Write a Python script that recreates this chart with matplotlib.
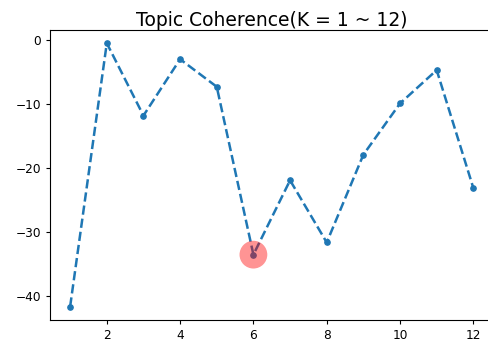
import matplotlib
matplotlib.use("Agg")
import matplotlib.pyplot as plt

# ==================================
# DATA
# ==================================

k_values = [1, 2, 3, 4, 5, 6, 7, 8, 9, 10, 11, 12]
coherence = [-41.6, -0.5, -11.8, -3.0, -7.3, -33.5, -21.9, -31.6, -17.9, -9.9, -4.7, -23.1]
best_k = 6
best_score = -33.5
x_ticks = [2, 4, 6, 8, 10, 12]

# ==================================
# PLOT
# ==================================

fig = plt.figure(figsize=(4.89, 3.42), dpi=100)
ax = fig.add_axes([0.1022, 0.0643, 0.907, 0.848])

ax.plot(k_values, coherence, "--", marker="o", markersize=3.8,
        linewidth=1.8, color="#1f77b4")
ax.scatter([best_k], [best_score], s=400, color="red", alpha=0.42,
           edgecolors="none", zorder=3)

ax.set_xticks(x_ticks)
ax.set_xlim(0.45, 12.55)
ax.set_ylim(-43.7, 1.56)
ax.spines["right"].set_visible(False)
ax.tick_params(labelsize=8.7, length=3)
ax.set_title("Topic Coherence(K = 1 ~ 12)", fontsize=13.5, pad=1)

fig.savefig("out.png", dpi=100)
